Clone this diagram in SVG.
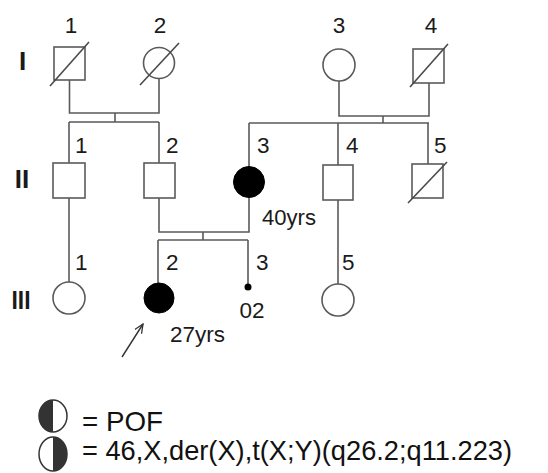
<svg xmlns="http://www.w3.org/2000/svg" width="548" height="473" viewBox="0 0 548 473">
<style>
.sh{fill:#fff;stroke:#5a5a5a;stroke-width:1.6}
.aff{fill:#000;stroke:#000;stroke-width:1}
.dg{stroke:#4a4a4a;stroke-width:1.6;fill:none}
.ln{stroke:#5a5a5a;stroke-width:1.6;fill:none}
.lb{font-family:"Liberation Sans",Arial,sans-serif;font-size:22.5px;fill:#1a1a1a}
.rm{font-family:"Liberation Sans",Arial,sans-serif;font-size:26px;font-weight:bold;fill:#1a1a1a;text-anchor:middle}
.lg{font-family:"Liberation Sans",Arial,sans-serif;font-size:28.5px;fill:#111}
</style>
<defs>
<marker id="ah" viewBox="0 0 10 10" refX="9" refY="5" markerWidth="10" markerHeight="10" markerUnits="userSpaceOnUse" orient="auto">
<path d="M0,1 L9,5 L0,9" fill="none" stroke="#333" stroke-width="1.3"/>
</marker>
</defs>
<rect width="548" height="473" fill="#fff"/>
<g id="generation-labels">
<text class="rm" x="22.5" y="70">I</text>
<text class="rm" x="22" y="188">II</text>
<text class="rm" x="21" y="309" textLength="19" lengthAdjust="spacingAndGlyphs">III</text>
</g>
<g id="connectors">
<path class="ln" d="M69.5,80 V113 H159 V78.5 M115,113 V122 M69,122 H159 M69,122 V163 M159,122 V163"/>
<path class="ln" d="M339,81 V116 H429 V83 M383,116 V123 M249,123 H429 M249,123 V166.5 M338,123 V165 M428,123 V164"/>
<path class="ln" d="M159,198 V232 H249 V197.5 M203,232 V240 M158,240 H248 M158,240 V283 M248,240 V287"/>
<path class="ln" d="M69,198 V282"/>
<path class="ln" d="M338,200 V284"/>
<line x1="122" y1="357" x2="143" y2="324" stroke="#333" stroke-width="1.4" marker-end="url(#ah)"/>
</g>
<g id="I-1"><rect class="sh" x="54" y="47" width="31" height="33"/><line class="dg" x1="50" y1="86" x2="89" y2="42"/><text class="lb" x="71" y="33" text-anchor="middle">1</text></g>
<g id="I-2"><circle class="sh" cx="159" cy="63" r="15.5"/><line class="dg" x1="140" y1="85" x2="179" y2="43"/><text class="lb" x="160" y="33" text-anchor="middle">2</text></g>
<g id="I-3"><circle class="sh" cx="339" cy="65" r="16"/><text class="lb" x="339" y="33" text-anchor="middle">3</text></g>
<g id="I-4"><rect class="sh" x="413" y="49" width="31" height="34"/><line class="dg" x1="410" y1="87" x2="448" y2="44"/><text class="lb" x="431" y="33" text-anchor="middle">4</text></g>
<g id="II-1"><rect class="sh" x="53" y="163" width="32" height="35"/><text class="lb" x="75" y="153">1</text></g>
<g id="II-2"><rect class="sh" x="144" y="163" width="31" height="35"/><text class="lb" x="166" y="153">2</text></g>
<g id="II-3"><circle class="aff" cx="249" cy="182" r="15.5"/><text class="lb" x="257" y="153">3</text><text class="lb" x="262" y="225" textLength="54" lengthAdjust="spacingAndGlyphs">40yrs</text></g>
<g id="II-4"><rect class="sh" x="323" y="165" width="30" height="35"/><text class="lb" x="346" y="153">4</text></g>
<g id="II-5"><rect class="sh" x="412" y="164" width="31" height="34"/><line class="dg" x1="408" y1="203" x2="447" y2="162"/><text class="lb" x="434" y="153">5</text></g>
<g id="III-1"><circle class="sh" cx="69" cy="298" r="16"/><text class="lb" x="75" y="270">1</text></g>
<g id="III-2"><circle class="aff" cx="159" cy="298" r="15"/><text class="lb" x="166" y="270">2</text><text class="lb" x="170" y="342" textLength="55" lengthAdjust="spacingAndGlyphs">27yrs</text></g>
<g id="III-3"><circle cx="248" cy="287" r="3.5" fill="#000"/><text class="lb" x="256" y="270">3</text><text class="lb" x="252" y="318" text-anchor="middle">02</text></g>
<g id="III-5"><circle class="sh" cx="338" cy="300" r="16"/><text class="lb" x="342" y="270">5</text></g>
<g id="legend">
<ellipse cx="53" cy="416" rx="14" ry="16" fill="#fff" stroke="#333" stroke-width="1.5"/>
<path d="M53,400 A14,16 0 0 0 53,432 Z" fill="#333"/>
<text class="lg" x="82" y="431" textLength="81" lengthAdjust="spacingAndGlyphs">= POF</text>
<ellipse cx="53" cy="454" rx="14" ry="17" fill="#fff" stroke="#333" stroke-width="1.5"/>
<path d="M53,437 A14,17 0 0 1 53,471 Z" fill="#333"/>
<text class="lg" x="82" y="460" textLength="430" lengthAdjust="spacingAndGlyphs">= 46,X,der(X),t(X;Y)(q26.2;q11.223)</text>
</g>
</svg>
